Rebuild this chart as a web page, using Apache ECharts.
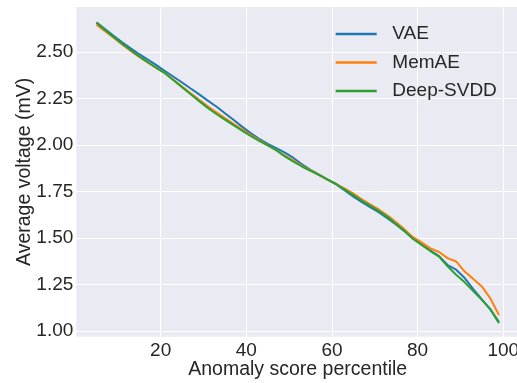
<!DOCTYPE html>
<html>
<head>
<meta charset="utf-8">
<script src="https://cdn.jsdelivr.net/npm/echarts@6/dist/echarts.min.js"></script>
<style>
  html, body { margin: 0; padding: 0; background: #ffffff; }
  #chart { width: 517px; height: 383px; }
</style>
</head>
<body>
<div id="chart"></div>
<script>
// Anomaly score percentile (x) and average voltage per method (mV)
const percentiles = [5, 7, 9, 11, 13, 15, 17, 19, 21, 23, 25, 27, 29, 31, 33, 35, 37, 39, 41, 43, 45, 47, 49, 51, 53, 55, 57, 59, 61, 63, 65, 67, 69, 71, 73, 75, 77, 79, 81, 83, 85, 87, 89, 91, 93, 95, 97, 99];

const vae = [2.658, 2.622, 2.586, 2.551, 2.518, 2.487, 2.458, 2.428, 2.397, 2.366, 2.335, 2.303, 2.271, 2.238, 2.206, 2.170, 2.135, 2.098, 2.063, 2.033, 2.005, 1.983, 1.958, 1.930, 1.896, 1.866, 1.840, 1.814, 1.788, 1.756, 1.722, 1.692, 1.664, 1.637, 1.605, 1.572, 1.535, 1.495, 1.464, 1.432, 1.403, 1.355, 1.330, 1.285, 1.225, 1.170, 1.115, 1.050];

const memae = [2.645, 2.610, 2.575, 2.540, 2.505, 2.473, 2.442, 2.413, 2.385, 2.350, 2.314, 2.277, 2.242, 2.207, 2.175, 2.144, 2.113, 2.083, 2.054, 2.026, 1.998, 1.970, 1.942, 1.915, 1.888, 1.863, 1.838, 1.813, 1.790, 1.765, 1.738, 1.708, 1.680, 1.652, 1.620, 1.584, 1.545, 1.503, 1.475, 1.444, 1.425, 1.392, 1.374, 1.320, 1.280, 1.240, 1.175, 1.086];

const deepSvdd = [2.656, 2.617, 2.579, 2.543, 2.508, 2.475, 2.444, 2.414, 2.385, 2.347, 2.310, 2.272, 2.235, 2.199, 2.166, 2.136, 2.106, 2.077, 2.048, 2.022, 1.997, 1.972, 1.938, 1.910, 1.884, 1.860, 1.838, 1.814, 1.790, 1.760, 1.730, 1.700, 1.672, 1.644, 1.612, 1.575, 1.537, 1.495, 1.462, 1.430, 1.400, 1.348, 1.303, 1.262, 1.215, 1.168, 1.118, 1.043];

const xTicks = [20, 40, 60, 80, 100];
const yTicks = [1.00, 1.25, 1.50, 1.75, 2.00, 2.25, 2.50];

const seriesNames = ['VAE', 'MemAE', 'Deep-SVDD'];
const seriesColors = ['#1f77b4', '#ff7f0e', '#2ca02c'];
const seriesValues = [vae, memae, deepSvdd];

const FONT = 'Liberation Sans, Arial, sans-serif';
const TEXT = '#262626';

const chart = echarts.init(document.getElementById('chart'), null, { renderer: 'canvas' });

const series = seriesNames.map((name, i) => ({
  name: name,
  type: 'line',
  data: percentiles.map((p, j) => [p, seriesValues[i][j]]),
  showSymbol: false,
  smooth: false,
  lineStyle: { color: seriesColors[i], width: 2 },
  itemStyle: { color: seriesColors[i] },
  emphasis: { disabled: true },
  z: 2 + i
}));

chart.setOption({
  animation: false,
  backgroundColor: '#ffffff',
  grid: {
    left: 76.3, top: 7, right: -2.1, bottom: 46.2,
    containLabel: false,
    outerBoundsMode: 'none',
    show: true, backgroundColor: '#EAEAF2', borderWidth: 0
  },
  xAxis: {
    type: 'value',
    min: 0.3, max: 103.7,
    axisLine: { show: false },
    axisTick: { show: false, customValues: xTicks },
    splitLine: { show: true, lineStyle: { color: '#ffffff', width: 1 } },
    axisLabel: {
      customValues: xTicks,
      color: TEXT, fontFamily: FONT, fontSize: 19, margin: 4,
      formatter: v => String(v)
    },
    name: 'Anomaly score percentile',
    nameLocation: 'middle',
    nameGap: 23,
    nameMoveOverlap: false,
    nameTextStyle: { color: TEXT, fontFamily: FONT, fontSize: 19.5, verticalAlign: 'top' }
  },
  yAxis: {
    type: 'value',
    min: 0.9695, max: 2.7405,
    axisLine: { show: false },
    axisTick: { show: false, customValues: yTicks },
    splitLine: { show: true, lineStyle: { color: '#ffffff', width: 1 } },
    axisLabel: {
      customValues: yTicks,
      color: TEXT, fontFamily: FONT, fontSize: 19, margin: 3,
      formatter: v => v.toFixed(2)
    },
    name: 'Average voltage (mV)',
    nameLocation: 'middle',
    nameGap: 42,
    nameMoveOverlap: false,
    nameTextStyle: { color: TEXT, fontFamily: FONT, fontSize: 19.5 }
  },
  legend: {
    show: true,
    orient: 'vertical',
    left: 335.7,
    top: 24.5,
    padding: 0,
    itemWidth: 41,
    itemHeight: 2.5,
    itemGap: 9.5,
    icon: 'rect',
    data: seriesNames.map((n, i) => ({ name: n, itemStyle: { color: seriesColors[i] } })),
    textStyle: { color: TEXT, fontFamily: FONT, fontSize: 19, lineHeight: 19, padding: [0, 0, 0, 10.6] },
    selectedMode: false
  },
  series: series
});
</script>
</body>
</html>
